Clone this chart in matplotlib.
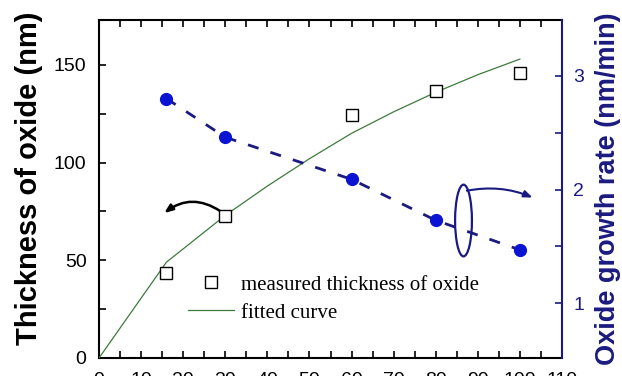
import numpy as np
import matplotlib
matplotlib.use("Agg")
import matplotlib.pyplot as plt
from matplotlib.patches import Ellipse
from matplotlib.ticker import MultipleLocator

# data
time_meas = [16, 30, 60, 80, 100]
thickness = [43.7, 72.5, 124.2, 136.6, 146.0]
time_fit = [0, 16, 30, 40, 50, 60, 70, 80, 90, 100]
thick_fit = [0, 49, 73, 88, 102, 115, 126, 136, 145, 153]
rate = [2.80, 2.46, 2.09, 1.73, 1.47]
xticks = [0, 10, 20, 30, 40, 50, 60, 70, 80, 90, 100, 110]

navy = '#1a1a80'
blue = '#0a14d2'
green = '#3d7a3d'

fig = plt.figure(figsize=(6.22, 3.76), dpi=100)
fig.patch.set_facecolor('white')
ax = fig.add_axes([99/622, 1-358/376, 463/622, 338/376])
ax2 = ax.twinx()

ax.plot(time_fit, thick_fit, color=green, lw=0.9, label='fitted curve', zorder=3)
ax.plot(time_meas, thickness, ls='none', marker='s', ms=8, mfc='white', mec='black',
        mew=1.0, label='measured thickness of oxide', zorder=4)

ax2.plot(time_meas, rate, color=navy, lw=2.0, dashes=(4, 4.5), zorder=2)
ax2.plot(time_meas, rate, ls='none', marker='o', ms=8.5, color=blue, zorder=3)

ax.set_xlim(0, 110)
ax.set_ylim(0, 173)
ax2.set_ylim(0.52, 3.49)
ax.set_xticks(xticks)
ax.xaxis.set_minor_locator(MultipleLocator(5))
ax.yaxis.set_major_locator(MultipleLocator(50))
ax.yaxis.set_minor_locator(MultipleLocator(25))
ax2.yaxis.set_major_locator(MultipleLocator(1))
ax2.yaxis.set_minor_locator(MultipleLocator(0.5))

ax.tick_params(axis='both', which='both', direction='in', length=5, width=1.2,
               top=True, labelsize=14, pad=9)
ax.tick_params(axis='x', which='major', pad=10)
for t in ax.get_xticklabels() + ax.get_yticklabels():
    t.set_fontfamily('Liberation Sans')
ax2.tick_params(axis='y', which='both', direction='in', length=5, width=1.2,
                colors=navy, labelsize=14, pad=8)
for t in ax2.get_yticklabels():
    t.set_fontfamily('Liberation Sans')
for s in ['left', 'top', 'bottom']:
    ax.spines[s].set_linewidth(1.5)
ax2.spines['right'].set_color(navy)
ax2.spines['right'].set_linewidth(1.5)
ax.spines['right'].set_visible(False)
ax2.spines['left'].set_visible(False)
ax2.spines['top'].set_visible(False)
ax2.spines['bottom'].set_visible(False)

ax.set_ylabel('Thickness of oxide (nm)', fontfamily='Liberation Sans', fontweight='bold',
              fontsize=21)
ax.yaxis.set_label_coords(-0.121, 0.533)
ax2.set_ylabel('Oxide growth rate (nm/min)', fontfamily='Liberation Sans', fontweight='bold',
               fontsize=19.5, color=navy, labelpad=8)

leg = ax.legend(handles=ax.get_lines()[::-1], loc='upper left',
                bbox_to_anchor=((188-99)/463, 0.245), borderaxespad=0, borderpad=0,
                frameon=False, numpoints=1, handlelength=2.2, handletextpad=0.35,
                labelspacing=0.4, prop=dict(family='Liberation Serif', size=15))

# black curved arrow pointing to the thickness axis
ax.annotate('', xy=(15.5, 74.2), xytext=(28.8, 75.2),
            arrowprops=dict(arrowstyle='-|>,head_length=0.5,head_width=0.2', color='black',
                            lw=1.8, shrinkA=0, shrinkB=0, connectionstyle='arc3,rad=0.35'))

# ellipse + arrow pointing to the rate axis
ax2.add_patch(Ellipse((86.6, 1.728), 4.0, 0.63, fill=False, ec=navy, lw=1.6, zorder=5))
ax2.annotate('', xy=(103, 1.93), xytext=(87.4, 1.99),
             arrowprops=dict(arrowstyle='-|>,head_length=0.5,head_width=0.2', color=navy,
                             lw=1.5, shrinkA=0, shrinkB=0, connectionstyle='arc3,rad=-0.15'))

fig.savefig('out.png', dpi=100)
